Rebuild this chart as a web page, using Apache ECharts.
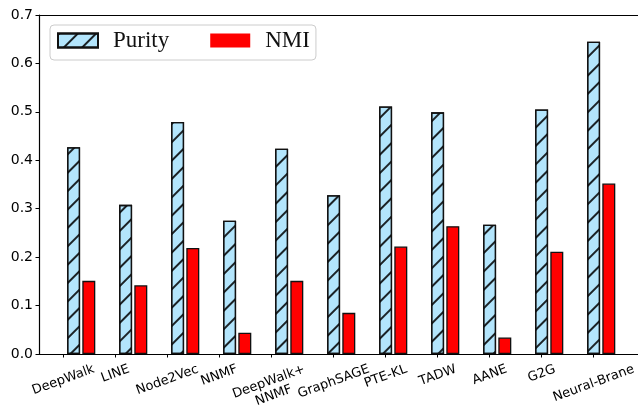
<!DOCTYPE html>
<html>
<head>
<meta charset="utf-8">
<script src="https://cdn.jsdelivr.net/npm/echarts@6/dist/echarts.min.js"></script>
<style>
  html, body { margin: 0; padding: 0; background: #fff; }
  #chart { width: 638px; height: 405px; }
</style>
</head>
<body>
<div id="chart"></div>
<script>
// ---- data ----
const categories = ['DeepWalk', 'LINE', 'Node2Vec', 'NNMF', 'DeepWalk+\nNNMF', 'GraphSAGE', 'PTE-KL', 'TADW', 'AANE', 'G2G', 'Neural-Brane'];
const purity = [0.427, 0.308, 0.479, 0.275, 0.424, 0.328, 0.511, 0.499, 0.267, 0.505, 0.645];
const nmi = [0.151, 0.142, 0.219, 0.044, 0.151, 0.085, 0.222, 0.264, 0.034, 0.211, 0.352];
const seriesNames = ['Purity', 'NMI'];
const yTicks = [0.0, 0.1, 0.2, 0.3, 0.4, 0.5, 0.6, 0.7];

// ---- layout helpers ----
// tick offsets (in category units, relative to the bar group centre) as drawn in the original
const tickPos = categories.map((c, i) => i + (i < 5 ? -0.344 : -0.144));

const ROT = 20 * Math.PI / 180;
const LABEL_FONT = 13;
const LINE_H = 14.5;
const LABEL_PAD = 4.5; // gap between axis line and the top of rotated label bbox

const PX_PER_CAT = 52;
const GRID_LEFT = 39, GRID_RIGHT_PX = 638, GROUP0_PX = 81.2;
const xMin = (GRID_LEFT - GROUP0_PX) / PX_PER_CAT;
const xMax = (GRID_RIGHT_PX - GROUP0_PX) / PX_PER_CAT;

const chart = echarts.init(document.getElementById('chart'), null, { renderer: 'canvas' });
chart.setOption({
  animation: false,
  backgroundColor: '#fff',
  grid: { left: GRID_LEFT, right: 0, top: 15, bottom: 51, containLabel: false, outerBoundsMode: 'none' },
  legend: {
    left: 50, top: 25,
    orient: 'horizontal',
    itemWidth: 40, itemHeight: 14, itemGap: 41,
    padding: [3.5, 6, 7.5, 7],
    backgroundColor: 'rgba(255,255,255,0.8)',
    borderColor: '#cccccc', borderWidth: 1, borderRadius: 4,
    textStyle: { fontFamily: 'Liberation Serif', fontSize: 23, color: '#111', lineHeight: 24, padding: [0, 0, 0, 10] },
    data: [
      { name: seriesNames[0], icon: 'rect' },
      { name: seriesNames[1], icon: 'rect', itemStyle: { borderWidth: 0 } }
    ]
  },
  xAxis: [
    {
      type: 'value', min: xMin, max: xMax, position: 'bottom',
      axisLine: { show: true, onZero: false, lineStyle: { color: '#000', width: 1.2 } },
      axisTick: { show: true, length: 3.5, inside: false, customValues: tickPos, lineStyle: { color: '#000', width: 1 } },
      splitLine: { show: false },
      axisLabel: { show: false }
    },
    {
      type: 'value', min: xMin, max: xMax, position: 'top',
      axisLine: { show: true, onZero: false, lineStyle: { color: '#000', width: 1.2 } },
      axisTick: { show: false }, axisLabel: { show: false }, splitLine: { show: false }
    }
  ],
  yAxis: {
    type: 'value', min: 0, max: 0.7, interval: 0.1,
    axisLine: { show: true, onZero: false, lineStyle: { color: '#000', width: 1.2 } },
    axisTick: { show: true, length: 3.5, inside: false, lineStyle: { color: '#000', width: 1 } },
    splitLine: { show: false },
    axisLabel: {
      margin: 6, fontFamily: 'DejaVu Sans', fontSize: 14, color: '#000',
      customValues: yTicks, showMinLabel: true, showMaxLabel: true,
      formatter: v => Number(v).toFixed(1)
    }
  },
  series: [
    {
      name: seriesNames[0], type: 'bar', xAxisIndex: 0,
      barWidth: 13, barGap: '17%',
      data: purity.map((v, i) => [i, v]),
      itemStyle: {
        color: '#b3e5fc', borderColor: '#111', borderWidth: 1.3,
        decal: {
          symbol: 'rect', symbolSize: 1, symbolKeepAspect: false,
          dashArrayX: [1, 0], dashArrayY: [1.1, 10.3],
          rotation: -Math.PI / 4, color: 'rgba(0,0,0,0.85)'
        }
      }
    },
    {
      name: seriesNames[1], type: 'bar', xAxisIndex: 0,
      barWidth: 13, barGap: '17%',
      data: nmi.map((v, i) => [i, v]),
      itemStyle: { color: '#ff0000', borderColor: '#111', borderWidth: 1.3 }
    }
  ]
});

// Rotated category labels, centred on their ticks like matplotlib (ha='center', rotation=20)
const cvs = document.createElement('canvas').getContext('2d');
cvs.font = LABEL_FONT + 'px "DejaVu Sans"';
const axisY = chart.convertToPixel({ yAxisIndex: 0 }, 0);
const labelTop = axisY + 3.5 + LABEL_PAD;
const labels = categories.map((c, i) => {
  const lines = c.split('\n');
  const W = Math.max(...lines.map(l => cvs.measureText(l).width));
  const H = lines.length * LINE_H;
  const cx = chart.convertToPixel({ xAxisIndex: 0 }, tickPos[i]);
  const cy = labelTop + (W * Math.sin(ROT) + H * Math.cos(ROT)) / 2;
  return {
    type: 'text', x: cx, y: cy, rotation: ROT, silent: true,
    style: {
      text: c, align: 'center', verticalAlign: 'middle',
      fontFamily: 'DejaVu Sans', fontSize: LABEL_FONT, lineHeight: LINE_H, fill: '#000'
    }
  };
});
chart.setOption({ graphic: labels });
</script>
</body>
</html>
